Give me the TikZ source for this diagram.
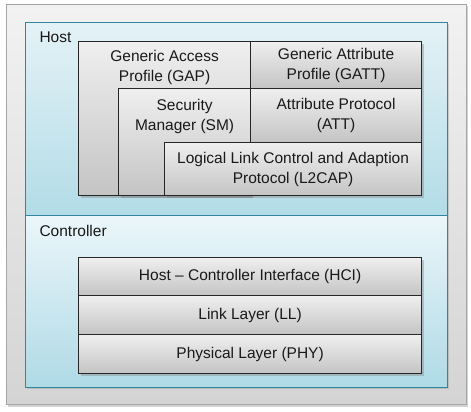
\documentclass[tikz,border=0pt]{standalone}
\usepackage{fontspec}
\setmainfont{Liberation Sans}
\usetikzlibrary{shadows}

\definecolor{framefill}{HTML}{F2F2F2}
\definecolor{framefilldark}{HTML}{D4D4D4}
\definecolor{frameedge}{HTML}{A6A6A6}
\definecolor{regionedge}{HTML}{31859C}
\definecolor{hosttop}{HTML}{E4F2F6}
\definecolor{hostbottom}{HTML}{B2DCE7}
\definecolor{ctrltop}{HTML}{EBF6FA}
\definecolor{ctrlbottom}{HTML}{AFDAE6}
\definecolor{layertop}{HTML}{EFEFEF}
\definecolor{layerbottom}{HTML}{C4C4C4}

\newcommand\layerfont{\fontsize{15.5}{20}\selectfont\color{black!90}}

\begin{document}
\begin{tikzpicture}
  [x=1pt, y=-1pt,
   frame/.style={draw=frameedge, line width=1pt, top color=framefill, bottom color=framefilldark,
         anchor=north west, inner sep=0pt,
         drop shadow={shadow xshift=1.5pt, shadow yshift=-2pt, opacity=0.35}},
   region/.style={draw=regionedge, line width=1.3pt, anchor=north west, inner sep=0pt,
         drop shadow={shadow xshift=1pt, shadow yshift=-1.5pt, opacity=0.3}},
   layer/.style={draw=black!85, line width=1.2pt, top color=layertop, bottom color=layerbottom,
         anchor=north west, inner sep=0pt, align=center, font=\layerfont,
         drop shadow={shadow xshift=2pt, shadow yshift=-2pt, opacity=0.4}},
   regionlabel/.style={anchor=base west, label distance=0pt, xshift=11pt, yshift=-21pt, font=\layerfont}
  ]
  \useasboundingbox (0, 0) rectangle (471, 412);

 \path
   (6, 4)     node (stack)  [frame, minimum width=460pt, minimum height=400pt] {}
   (25, 22)   node (host)   [region, top color=hosttop, bottom color=hostbottom,
                             minimum width=422pt, minimum height=193pt,
                             label={[regionlabel]north west:Host}] {}
   (25, 215)  node (ctrl)   [region, top color=ctrltop, bottom color=ctrlbottom,
                             minimum width=422pt, minimum height=172pt,
                             label={[regionlabel]north west:Controller}] {}
   % host layers
   (78, 41)   node (gap)    [layer, minimum width=172pt, minimum height=154pt,
                             label={[anchor=center, label distance=0pt, yshift=-26pt,
                                     font=\layerfont, align=center]north:{Generic Access\\Profile (GAP)}}] {}
   (250, 41)  node (gatt)   [layer, minimum width=171pt, minimum height=47pt] {Generic Attribute\\Profile (GATT)}
   (118, 88)  node (sm)     [layer, minimum width=132pt, minimum height=107pt,
                             label={[anchor=center, label distance=0pt, yshift=-28pt,
                                     font=\layerfont, align=center]north:{Security\\Manager (SM)}}] {}
   (250, 88)  node (att)    [layer, minimum width=171pt, minimum height=54pt] {Attribute Protocol\\(ATT)}
   (164, 142) node (l2cap)  [layer, minimum width=257pt, minimum height=53pt] {Logical Link Control and Adaption\\Protocol (L2CAP)}
   % controller layers
   (78, 257)  node (hci)    [layer, minimum width=343pt, minimum height=38pt] {Host -- Controller Interface (HCI)}
   (78, 295)  node (ll)     [layer, minimum width=343pt, minimum height=39pt] {Link Layer (LL)}
   (78, 334)  node (phy)    [layer, minimum width=343pt, minimum height=39pt] {Physical Layer (PHY)}
   ;

\end{tikzpicture}
\end{document}
